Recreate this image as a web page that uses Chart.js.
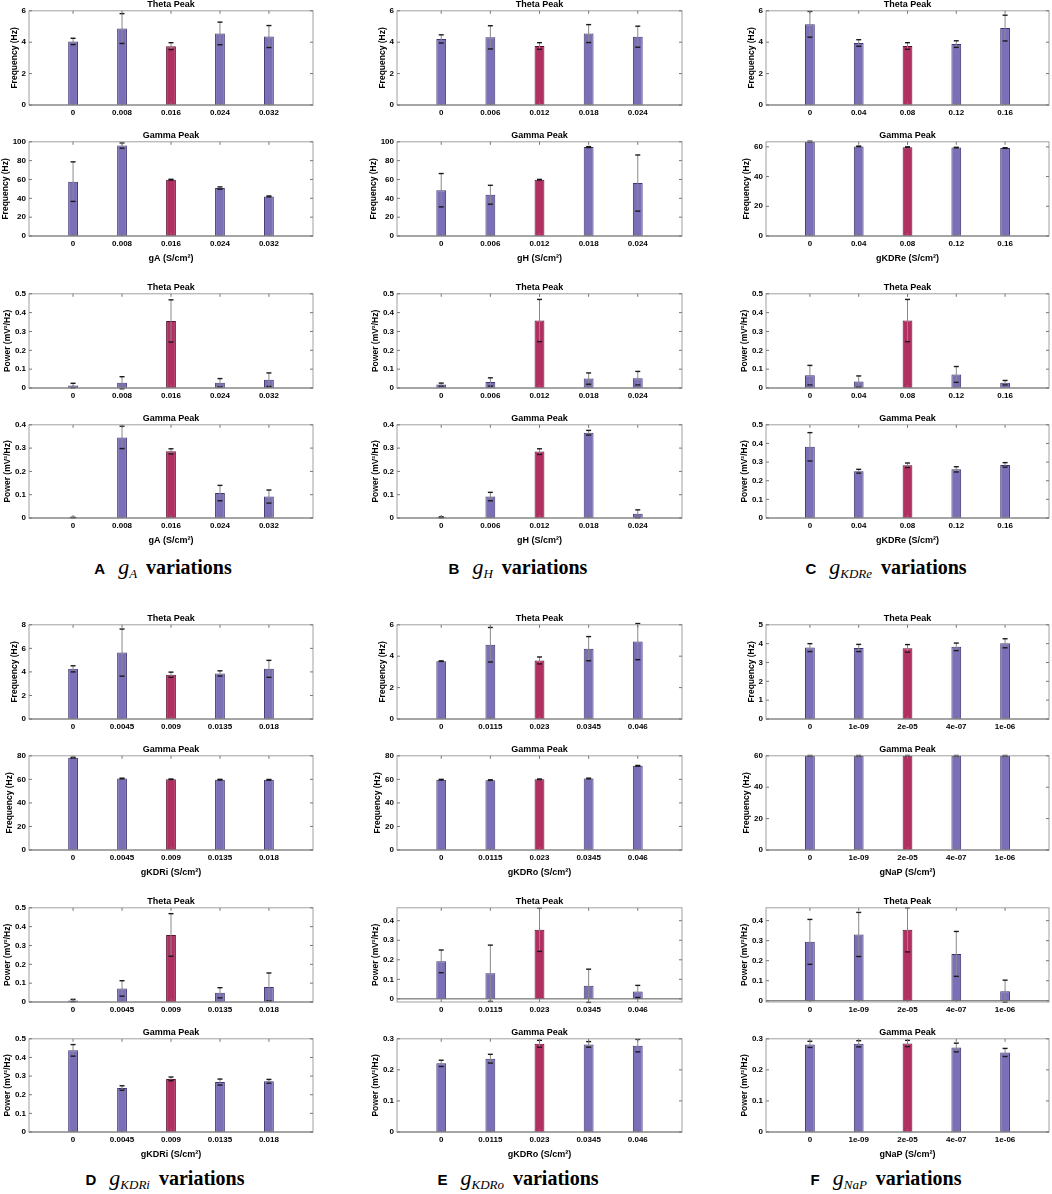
<!DOCTYPE html>
<html>
<head>
<meta charset="utf-8">
<script src="https://cdn.jsdelivr.net/npm/chart.js@4/dist/chart.umd.min.js"></script>
<style>
  body { margin: 0; background: #fff; width: 1052px; height: 1194px; position: relative; overflow: hidden; }
  canvas { position: absolute; }
  .plbl { position: absolute; transform: translateX(-50%); white-space: nowrap; font-family: "Liberation Serif", serif; font-size: 20px; font-weight: bold; line-height: 20px; color: #000; }
  .plbl .let { font-family: "Liberation Sans", Arial, sans-serif; font-size: 15px; margin-right: 13px; }
  .plbl .m { font-style: italic; font-weight: normal; font-size: 22px; margin-right: 9px; }
  .plbl .m sub { font-size: 13px; vertical-align: -4px; }
</style>
</head>
<body>
<div class="plbl" style="left:163px;top:557px"><span class="let">A</span><span class="m">g<sub>A</sub></span>variations</div>
<div class="plbl" style="left:518px;top:557px"><span class="let">B</span><span class="m">g<sub>H</sub></span>variations</div>
<div class="plbl" style="left:886px;top:557px"><span class="let">C</span><span class="m">g<sub>KDRe</sub></span>variations</div>
<div class="plbl" style="left:165px;top:1168px"><span class="let">D</span><span class="m">g<sub>KDRi</sub></span>variations</div>
<div class="plbl" style="left:518px;top:1168px"><span class="let">E</span><span class="m">g<sub>KDRo</sub></span>variations</div>
<div class="plbl" style="left:886px;top:1168px"><span class="let">F</span><span class="m">g<sub>NaP</sub></span>variations</div>

<script>
// ---- data ----
const gALabels = ["0", "0.008", "0.016", "0.024", "0.032"];
const gAThetaFreq = [4.05, 4.87, 3.75, 4.56, 4.36];
const gAThetaFreqErr = [0.2, 0.95, 0.22, 0.72, 0.7];
const gAGammaFreq = [57.7, 96, 59.8, 50.9, 42];
const gAGammaFreqErr = [21, 2.8, 0.4, 1.2, 0.5];
const gAThetaPow = [0.013, 0.028, 0.356, 0.028, 0.044];
const gAThetaPowErr = [0.012, 0.032, 0.112, 0.022, 0.036];
const gAGammaPow = [0.002, 0.346, 0.286, 0.107, 0.092];
const gAGammaPowErr = [0.001, 0.048, 0.011, 0.033, 0.028];

const gHLabels = ["0", "0.006", "0.012", "0.018", "0.024"];
const gHThetaFreq = [4.21, 4.31, 3.76, 4.55, 4.35];
const gHThetaFreqErr = [0.26, 0.74, 0.21, 0.57, 0.67];
const gHGammaFreq = [48.6, 43.8, 59.8, 94.4, 56.2];
const gHGammaFreqErr = [17.7, 10, 0.3, 0.5, 29.8];
const gHThetaPow = [0.018, 0.032, 0.358, 0.05, 0.052];
const gHThetaPowErr = [0.008, 0.022, 0.112, 0.03, 0.036];
const gHGammaPow = [0.003, 0.092, 0.285, 0.366, 0.018];
const gHGammaPowErr = [0.002, 0.018, 0.012, 0.01, 0.017];

const gKDReLabels = ["0", "0.04", "0.08", "0.12", "0.16"];
const gKDReThetaFreq = [5.14, 3.95, 3.76, 3.88, 4.9];
const gKDReThetaFreqErr = [0.82, 0.21, 0.21, 0.21, 0.82];
const gKDReGammaFreq = [63.5, 60.3, 59.8, 59.5, 59.2];
const gKDReGammaFreqErr = [0.3, 0.2, 0.2, 0.2, 0.2];
const gKDReThetaPow = [0.068, 0.034, 0.358, 0.072, 0.028];
const gKDReThetaPowErr = [0.052, 0.03, 0.112, 0.042, 0.012];
const gKDReGammaPow = [0.382, 0.251, 0.283, 0.261, 0.285];
const gKDReGammaPowErr = [0.076, 0.01, 0.012, 0.014, 0.012];

const gKDRiLabels = ["0", "0.0045", "0.009", "0.0135", "0.018"];
const gKDRiThetaFreq = [4.26, 5.64, 3.76, 3.87, 4.26];
const gKDRiThetaFreqErr = [0.26, 2.0, 0.22, 0.22, 0.72];
const gKDRiGammaFreq = [78.4, 60.7, 60, 59.7, 59.6];
const gKDRiGammaFreqErr = [0.4, 0.3, 0.3, 0.3, 0.3];
const gKDRiThetaPow = [0.008, 0.072, 0.356, 0.049, 0.08];
const gKDRiThetaPowErr = [0.006, 0.041, 0.113, 0.027, 0.074];
const gKDRiGammaPow = [0.438, 0.236, 0.285, 0.268, 0.272];
const gKDRiGammaPowErr = [0.031, 0.012, 0.01, 0.016, 0.01];

const gKDRoLabels = ["0", "0.0115", "0.023", "0.0345", "0.046"];
const gKDRoThetaFreq = [3.68, 4.73, 3.73, 4.48, 4.93];
const gKDRoThetaFreqErr = [0.02, 1.1, 0.22, 0.77, 1.15];
const gKDRoGammaFreq = [59.7, 59.3, 60, 60.7, 71.5];
const gKDRoGammaFreqErr = [0.3, 0.3, 0.3, 0.3, 0.3];
const gKDRoThetaPow = [0.192, 0.131, 0.354, 0.067, 0.038];
const gKDRoThetaPowErr = [0.058, 0.144, 0.111, 0.085, 0.031];
const gKDRoGammaPow = [0.221, 0.236, 0.284, 0.282, 0.278];
const gKDRoGammaPowErr = [0.01, 0.014, 0.011, 0.009, 0.02];

const gNaPLabels = ["0", "1e-09", "2e-05", "4e-07", "1e-06"];
const gNaPThetaFreq = [3.79, 3.77, 3.75, 3.83, 4.02];
const gNaPThetaFreqErr = [0.21, 0.19, 0.2, 0.2, 0.24];
const gNaPGammaFreq = [60, 60, 60, 60, 60];
const gNaPGammaFreqErr = [0.2, 0.2, 0.2, 0.2, 0.2];
const gNaPThetaPow = [0.294, 0.331, 0.354, 0.234, 0.048];
const gNaPThetaPowErr = [0.112, 0.11, 0.11, 0.112, 0.055];
const gNaPGammaPow = [0.282, 0.284, 0.285, 0.272, 0.256];
const gNaPGammaPowErr = [0.01, 0.01, 0.01, 0.014, 0.013];

// tick labels
const ticks0to5 = [0, 1, 2, 3, 4, 5];
const ticks0to6 = [0, 2, 4, 6];
const ticks0to8 = [0, 2, 4, 6, 8];
const ticks0to60 = [0, 20, 40, 60];
const ticks0to80 = [0, 20, 40, 60, 80];
const ticks0to100 = [0, 20, 40, 60, 80, 100];
const ticksP03 = [0, 0.1, 0.2, 0.3];
const ticksP04 = [0, 0.1, 0.2, 0.3, 0.4];
const ticksP05 = [0, 0.1, 0.2, 0.3, 0.4, 0.5];

// ---- layout / style ----
const PURPLE = "#7b70b8", PURPLE_EDGE = "#3b3372";
const RED = "#b03062", RED_EDGE = "#5c1030";
const AXW = 40, TITLEH = 14, XH_TICKS = 16, XH_TITLE = 32;
const colLeft = [29, 397, 766], colRight = [313, 682, 1049];
const rowTop = [11, 142, 294, 425], rowH = [94, 94, 94, 93];
const halfShift = [0, 614];
const YT_SIZE = 8.5;

Chart.defaults.font.family = '"Liberation Sans", Arial, sans-serif';
Chart.defaults.color = "#000";

const measureCtx = document.createElement("canvas").getContext("2d");
measureCtx.font = 'bold 8px "Liberation Sans", Arial, sans-serif';
function labelWidth(ticks) {
  return Math.max(...ticks.map(t => measureCtx.measureText(String(t)).width));
}

// error bars, zero baseline, axes box with inward ticks
const errBox = {
  id: "errBox",
  afterDatasetsDraw(chart) {
    const { ctx, chartArea: a, scales: { x, y } } = chart;
    const ds = chart.data.datasets[0];
    const meta = chart.getDatasetMeta(0);
    const line = (x1, y1, x2, y2) => { ctx.beginPath(); ctx.moveTo(x1, y1); ctx.lineTo(x2, y2); ctx.stroke(); };
    ctx.save();

    const y0 = y.getPixelForValue(0);
    ctx.strokeStyle = "#555"; ctx.lineWidth = 1;
    line(a.left, y0, a.right, y0);

    meta.data.forEach((bar, i) => {
      const v = ds.data[i].y, e = ds.errors[i];
      const yt = y.getPixelForValue(v + e), yb = y.getPixelForValue(v - e);
      ctx.strokeStyle = "#8a8a8a"; ctx.lineWidth = 1;
      line(bar.x, yt, bar.x, yb);
      ctx.strokeStyle = "#1a1a1a"; ctx.lineWidth = 1.4;
      line(bar.x - 2.5, yt, bar.x + 2.5, yt);
      line(bar.x - 2.5, yb, bar.x + 2.5, yb);
    });

    ctx.strokeStyle = "#a0a0a0"; ctx.lineWidth = 1;
    ctx.strokeRect(a.left, a.top, a.right - a.left, a.bottom - a.top);
    ctx.strokeStyle = "#777";
    y.ticks.forEach(t => {
      const py = y.getPixelForValue(t.value);
      line(a.left, py, a.left + 3, py);
      line(a.right, py, a.right - 3, py);
    });
    x.ticks.forEach(t => {
      const px = x.getPixelForValue(t.value);
      line(px, a.top, px, a.top + 3);
      line(px, a.bottom, px, a.bottom - 3);
    });
    ctx.restore();
  }
};

function subplot(p, r) {
  const [vals, errs, ticks, yMin, yMax] = p.rows[r];
  const plotL = colLeft[p.col], plotW = colRight[p.col] - plotL;
  const plotT = rowTop[r] + halfShift[p.half];
  const withX = r === 1 || r === 3;
  const xh = withX ? XH_TITLE : XH_TICKS;
  const W = AXW + plotW + 3, H = TITLEH + rowH[r] + xh;

  const cv = document.createElement("canvas");
  cv.width = W; cv.height = H;
  cv.style.left = (plotL - AXW) + "px";
  cv.style.top = (plotT - TITLEH) + "px";
  cv.style.width = W + "px"; cv.style.height = H + "px";
  document.body.appendChild(cv);

  const yTitlePad = Math.max(0, AXW - (labelWidth(ticks) + 10) - YT_SIZE * 0.6);

  new Chart(cv, {
    type: "bar",
    data: {
      datasets: [{
        data: vals.map((v, i) => ({ x: i + 1, y: v })),
        errors: errs,
        backgroundColor: p.labels.map((_, i) => i === 2 ? RED : PURPLE),
        borderColor: p.labels.map((_, i) => i === 2 ? RED_EDGE : PURPLE_EDGE),
        borderWidth: 1,
        barPercentage: 0.2,
        categoryPercentage: 1
      }]
    },
    options: {
      responsive: false,
      animation: false,
      layout: { padding: { left: 0, right: 3, top: 0, bottom: 0 } },
      plugins: {
        legend: { display: false },
        tooltip: { enabled: false },
        title: {
          display: true,
          text: r % 2 === 0 ? "Theta Peak" : "Gamma Peak",
          fullSize: false,
          font: { size: 9, weight: "bold", lineHeight: 1.2 },
          padding: { top: 2.5, bottom: 0.5 },
          color: "#000"
        }
      },
      scales: {
        x: {
          type: "linear", min: 0.1, max: 5.9, offset: false,
          grid: { display: false, drawTicks: false },
          border: { display: false },
          afterBuildTicks: s => { s.ticks = p.labels.map((_, i) => ({ value: i + 1 })); },
          afterFit: s => { s.height = xh; },
          ticks: { callback: (v, i) => p.labels[i], font: { size: 8, weight: "bold" }, color: "#000", padding: 3, maxRotation: 0, autoSkip: false },
          title: { display: withX, text: p.xTitle, font: { size: 9, weight: "bold", lineHeight: 1.2 }, padding: { top: 0, bottom: 4 }, color: "#000" }
        },
        y: {
          min: yMin, max: yMax,
          grid: { display: false, drawTicks: false },
          border: { display: false },
          afterBuildTicks: s => { s.ticks = ticks.map(v => ({ value: v })); },
          afterFit: s => { s.width = AXW; },
          ticks: { callback: v => String(v), font: { size: 8, weight: "bold" }, color: "#000", padding: 3, autoSkip: false },
          title: { display: true, text: r < 2 ? "Frequency (Hz)" : "Power (mV²/Hz)", font: { size: YT_SIZE, weight: "bold", lineHeight: 1.2 }, padding: { top: yTitlePad, bottom: 0 }, color: "#000" }
        }
      }
    },
    plugins: [errBox]
  });
}

const panels = [
  { col: 0, half: 0, labels: gALabels, xTitle: "gA (S/cm²)", rows: [
    [gAThetaFreq, gAThetaFreqErr, ticks0to6, 0, 6],
    [gAGammaFreq, gAGammaFreqErr, ticks0to100, 0, 100],
    [gAThetaPow, gAThetaPowErr, ticksP05, 0, 0.5],
    [gAGammaPow, gAGammaPowErr, ticksP04, 0, 0.4]] },
  { col: 1, half: 0, labels: gHLabels, xTitle: "gH (S/cm²)", rows: [
    [gHThetaFreq, gHThetaFreqErr, ticks0to6, 0, 6],
    [gHGammaFreq, gHGammaFreqErr, ticks0to100, 0, 100],
    [gHThetaPow, gHThetaPowErr, ticksP05, 0, 0.5],
    [gHGammaPow, gHGammaPowErr, ticksP04, 0, 0.4]] },
  { col: 2, half: 0, labels: gKDReLabels, xTitle: "gKDRe (S/cm²)", rows: [
    [gKDReThetaFreq, gKDReThetaFreqErr, ticks0to6, 0, 6],
    [gKDReGammaFreq, gKDReGammaFreqErr, ticks0to60, 0, 63.4],
    [gKDReThetaPow, gKDReThetaPowErr, ticksP05, 0, 0.5],
    [gKDReGammaPow, gKDReGammaPowErr, ticksP05, 0, 0.5]] },
  { col: 0, half: 1, labels: gKDRiLabels, xTitle: "gKDRi (S/cm²)", rows: [
    [gKDRiThetaFreq, gKDRiThetaFreqErr, ticks0to8, 0, 8],
    [gKDRiGammaFreq, gKDRiGammaFreqErr, ticks0to80, 0, 80],
    [gKDRiThetaPow, gKDRiThetaPowErr, ticksP05, 0, 0.5],
    [gKDRiGammaPow, gKDRiGammaPowErr, ticksP05, 0, 0.5]] },
  { col: 1, half: 1, labels: gKDRoLabels, xTitle: "gKDRo (S/cm²)", rows: [
    [gKDRoThetaFreq, gKDRoThetaFreqErr, ticks0to6, 0, 6],
    [gKDRoGammaFreq, gKDRoGammaFreqErr, ticks0to80, 0, 80],
    [gKDRoThetaPow, gKDRoThetaPowErr, ticksP04, -0.016, 0.466],
    [gKDRoGammaPow, gKDRoGammaPowErr, ticksP03, 0, 0.3]] },
  { col: 2, half: 1, labels: gNaPLabels, xTitle: "gNaP (S/cm²)", rows: [
    [gNaPThetaFreq, gNaPThetaFreqErr, ticks0to5, 0, 5],
    [gNaPGammaFreq, gNaPGammaFreqErr, ticks0to60, 0, 60],
    [gNaPThetaPow, gNaPThetaPowErr, ticksP04, -0.006, 0.464],
    [gNaPGammaPow, gNaPGammaPowErr, ticksP03, 0, 0.3]] }
];

panels.forEach(p => { for (let r = 0; r < 4; r++) subplot(p, r); });
</script>
</body>
</html>
